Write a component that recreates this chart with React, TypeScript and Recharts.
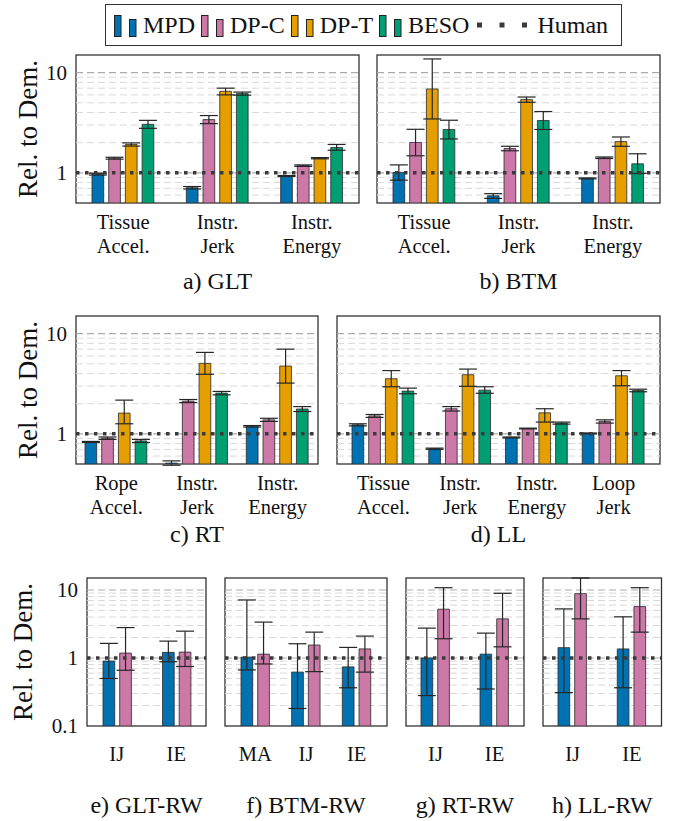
import React from 'react';
import * as R from 'recharts';

const { BarChart, Bar, XAxis, YAxis, ErrorBar, ReferenceLine } = R as any;

const FONT = "'Liberation Serif', 'Times New Roman', Times, serif";

const SERIES_NAMES = ['MPD', 'DP-C', 'DP-T', 'BESO'];
const SERIES_COLORS = ['#0072B2', '#CC79A7', '#E69F00', '#009E73'];
const HUMAN_LABEL = 'Human';
const HUMAN_VALUE = 1;
const Y_LABEL = 'Rel. to Dem.';

// ---------- a) GLT ----------
const gltCategories = ['Tissue\nAccel.', 'Instr.\nJerk', 'Instr.\nEnergy'];
const gltMean = [
  [0.97, 0.71, 0.93],
  [1.4, 3.4, 1.18],
  [1.92, 6.51, 1.4],
  [3.05, 6.18, 1.79],
];
const gltLow = [
  [0.95, 0.69, 0.92],
  [1.37, 3.1, 1.16],
  [1.85, 6.0, 1.38],
  [2.78, 5.96, 1.68],
];
const gltHigh = [
  [0.99, 0.73, 0.94],
  [1.43, 3.73, 1.2],
  [1.99, 7.0, 1.42],
  [3.34, 6.4, 1.92],
];

// ---------- b) BTM ----------
const btmCategories = ['Tissue\nAccel.', 'Instr.\nJerk', 'Instr.\nEnergy'];
const btmMean = [
  [1.01, 0.59, 0.88],
  [2.01, 1.75, 1.41],
  [6.87, 5.38, 2.05],
  [2.71, 3.33, 1.23],
];
const btmLow = [
  [0.845, 0.556, 0.87],
  [1.48, 1.66, 1.39],
  [3.45, 5.06, 1.84],
  [2.18, 2.71, 0.985],
];
const btmHigh = [
  [1.2, 0.62, 0.89],
  [2.72, 1.84, 1.44],
  [13.7, 5.71, 2.28],
  [3.35, 4.09, 1.55],
];

// ---------- c) RT ----------
const rtCategories = ['Rope\nAccel.', 'Instr.\nJerk', 'Instr.\nEnergy'];
const rtMean = [
  [0.83, 0.51, 1.19],
  [0.905, 2.12, 1.38],
  [1.61, 5.05, 4.75],
  [0.85, 2.55, 1.77],
];
const rtLow = [
  [0.82, 0.486, 1.17],
  [0.88, 2.05, 1.33],
  [1.26, 3.93, 3.21],
  [0.82, 2.45, 1.67],
];
const rtHigh = [
  [0.84, 0.537, 1.21],
  [0.93, 2.2, 1.43],
  [2.17, 6.5, 7.0],
  [0.88, 2.65, 1.87],
];

// ---------- d) LL ----------
const llCategories = ['Tissue\nAccel.', 'Instr.\nJerk', 'Instr.\nEnergy', 'Loop\nJerk'];
const llMean = [
  [1.23, 0.71, 0.92, 1.01],
  [1.51, 1.78, 1.13, 1.33],
  [3.55, 3.89, 1.62, 3.8],
  [2.67, 2.73, 1.28, 2.71],
];
const llLow = [
  [1.2, 0.7, 0.91, 1.0],
  [1.46, 1.69, 1.12, 1.28],
  [2.95, 2.98, 1.31, 3.02],
  [2.51, 2.54, 1.25, 2.63],
];
const llHigh = [
  [1.26, 0.72, 0.93, 1.02],
  [1.56, 1.87, 1.14, 1.38],
  [4.28, 4.43, 1.78, 4.28],
  [2.86, 2.95, 1.31, 2.79],
];

// ---------- e) GLT-RW ----------
const gltRwCategories = ['IJ', 'IE'];
const gltRwMean = [
  [0.9, 1.21],
  [1.18, 1.22],
];
const gltRwLow = [
  [0.5, 0.88],
  [0.66, 0.75],
];
const gltRwHigh = [
  [1.64, 1.77],
  [2.8, 2.48],
];

// ---------- f) BTM-RW ----------
const btmRwCategories = ['MA', 'IJ', 'IE'];
const btmRwMean = [
  [1.03, 0.62, 0.74],
  [1.14, 1.55, 1.36],
];
const btmRwLow = [
  [0.667, 0.181, 0.365],
  [0.817, 0.63, 0.62],
];
const btmRwHigh = [
  [7.13, 1.62, 1.43],
  [3.37, 2.4, 2.1],
];

// ---------- g) RT-RW ----------
const rtRwCategories = ['IJ', 'IE'];
const rtRwMean = [
  [1.0, 1.14],
  [5.22, 3.76],
];
const rtRwLow = [
  [0.28, 0.35],
  [1.92, 1.46],
];
const rtRwHigh = [
  [2.75, 2.32],
  [10.8, 8.94],
];

// ---------- h) LL-RW ----------
const llRwCategories = ['IJ', 'IE'];
const llRwMean = [
  [1.42, 1.36],
  [8.83, 5.7],
];
const llRwLow = [
  [0.31, 0.365],
  [3.76, 2.4],
];
const llRwHigh = [
  [5.27, 4.03],
  [15, 10.8],
];

// axis ticks & grid
const simDomain = [0.5, 15];
const simTicks = [1, 10];
const simMinorGrid = [0.6, 0.7, 0.8, 0.9, 2, 3, 4, 5, 6, 7, 8, 9];
const rwDomain = [0.1, 15];
const rwTicks = [0.1, 1, 10];
const rwMinorGrid = [0.2, 0.3, 0.4, 0.5, 0.6, 0.7, 0.8, 0.9, 2, 3, 4, 5, 6, 7, 8, 9];
const majorGrid = [1, 10];

function buildRows(categories: string[], means: number[][], lows: number[][], highs: number[][]) {
  return categories.map((name, i) => {
    const row: any = { name };
    means.forEach((series, s) => {
      const v = series[i];
      row['v' + s] = v;
      row['e' + s] = [v - lows[s][i], highs[s][i] - v];
    });
    return row;
  });
}

function Frame() {
  const hook = (R as any).usePlotArea;
  const area = hook ? hook() : null;
  if (!area) return null;
  return (
    <rect
      x={area.x}
      y={area.y}
      width={area.width}
      height={area.height}
      fill="none"
      stroke="#333"
      strokeWidth={1.3}
    />
  );
}

const makeXTick = (firstDy: number) => (props: any) => {
  const { x, y, payload } = props;
  const lines = String(payload.value).split('\n');
  return (
    <text x={x} y={y} textAnchor="middle" fontFamily={FONT} fontSize={20.5} fill="#111">
      {lines.map((l, i) => (
        <tspan key={i} x={x} dy={i === 0 ? firstDy : 24}>
          {l}
        </tspan>
      ))}
    </text>
  );
};

const EmptyTick = () => <g />;

interface PanelCfg {
  title: string;
  categories: string[];
  means: number[][];
  lows: number[][];
  highs: number[][];
  domain: number[];
  ticks: number[];
  minor: number[];
  plot: { x: number; y: number; w: number; h: number };
  showY: boolean;
  yLabelX?: number;
  padX: number;
  tickDy: number;
  titleDy: number;
}

function Panel({ cfg }: { cfg: PanelCfg }) {
  const { plot } = cfg;
  const yAxisW = cfg.showY ? 85 : 0;
  const mLeft = cfg.showY ? 0 : 10;
  const chartLeft = plot.x - yAxisW - mLeft;
  const width = mLeft + yAxisW + plot.w + 10;
  const height = 10 + plot.h + 100;
  const rows = buildRows(cfg.categories, cfg.means, cfg.lows, cfg.highs);
  const gridAll = [...cfg.minor, ...majorGrid];

  const yLabel = (p: any) => {
    const vb = p.viewBox || {};
    const cx = (cfg.yLabelX ?? 0) - chartLeft;
    const cy = (vb.y ?? 10) + (vb.height ?? plot.h) / 2;
    return (
      <text
        x={cx}
        y={cy}
        transform={`rotate(-90, ${cx}, ${cy})`}
        textAnchor="middle"
        dominantBaseline="central"
        fontFamily={FONT}
        fontSize={27}
        fill="#111"
      >
        {Y_LABEL}
      </text>
    );
  };

  const xTitle = (p: any) => {
    const vb = p.viewBox || {};
    return (
      <text
        x={vb.x + vb.width / 2}
        y={vb.y + cfg.titleDy}
        textAnchor="middle"
        fontFamily={FONT}
        fontSize={24}
        fill="#111"
      >
        {cfg.title}
      </text>
    );
  };

  return (
    <div style={{ position: 'absolute', left: chartLeft, top: plot.y - 10 }}>
      <BarChart
        width={width}
        height={height}
        data={rows}
        margin={{ top: 10, right: 10, left: mLeft, bottom: 0 }}
        barSize={11.7}
        barGap={5}
      >
        <XAxis
          dataKey="name"
          interval={0}
          height={100}
          axisLine={false}
          tickLine={false}
          tickSize={0}
          tickMargin={0}
          padding={{ left: cfg.padX, right: cfg.padX }}
          tick={makeXTick(cfg.tickDy)}
          label={xTitle}
        />
        <YAxis
          scale="log"
          domain={cfg.domain}
          allowDataOverflow
          ticks={cfg.ticks}
          hide={!cfg.showY}
          width={yAxisW}
          axisLine={false}
          tickLine={false}
          tickSize={0}
          tickMargin={9}
          tickFormatter={(v: number) => String(v)}
          tick={{ fontSize: 21, fill: '#111', fontFamily: FONT }}
          label={cfg.showY ? yLabel : undefined}
        />
        <YAxis
          yAxisId="tl"
          orientation="left"
          mirror
          width={0}
          scale="log"
          domain={cfg.domain}
          allowDataOverflow
          ticks={gridAll}
          axisLine={false}
          tickSize={4}
          tickLine={{ stroke: '#555', strokeWidth: 0.8 }}
          tick={EmptyTick}
        />
        <YAxis
          yAxisId="tr"
          orientation="right"
          mirror
          width={0}
          scale="log"
          domain={cfg.domain}
          allowDataOverflow
          ticks={gridAll}
          axisLine={false}
          tickSize={4}
          tickLine={{ stroke: '#555', strokeWidth: 0.8 }}
          tick={EmptyTick}
        />
        {cfg.minor.map((g) => (
          <ReferenceLine
            key={'mi' + g}
            y={g}
            stroke="#d9d9d9"
            strokeWidth={1}
            strokeDasharray="7 4"
            zIndex={100}
          />
        ))}
        {majorGrid.map((g) => (
          <ReferenceLine
            key={'ma' + g}
            y={g}
            stroke="#ababab"
            strokeWidth={1.2}
            strokeDasharray="7 4"
            zIndex={100}
          />
        ))}
        {cfg.means.map((_, s) => (
          <Bar
            key={s}
            dataKey={'v' + s}
            name={SERIES_NAMES[s]}
            fill={SERIES_COLORS[s]}
            stroke="#2a2a2a"
            strokeOpacity={0.8}
            strokeWidth={1}
            isAnimationActive={false}
          >
            <ErrorBar dataKey={'e' + s} width={9} stroke="#262626" strokeWidth={1.2} direction="y" />
          </Bar>
        ))}
        <ReferenceLine
          y={HUMAN_VALUE}
          stroke="#3a3a3a"
          strokeWidth={3.5}
          strokeDasharray="3.5 5.5"
          zIndex={1500}
        />
        <Frame />
      </BarChart>
    </div>
  );
}

const panels: PanelCfg[] = [
  {
    title: 'a) GLT', categories: gltCategories, means: gltMean, lows: gltLow, highs: gltHigh,
    domain: simDomain, ticks: simTicks, minor: simMinorGrid,
    plot: { x: 76, y: 55, w: 283, h: 148 }, showY: true, yLabelX: 27.5, padX: 0, tickDy: 26, titleDy: 86,
  },
  {
    title: 'b) BTM', categories: btmCategories, means: btmMean, lows: btmLow, highs: btmHigh,
    domain: simDomain, ticks: simTicks, minor: simMinorGrid,
    plot: { x: 377, y: 55, w: 283, h: 148 }, showY: false, padX: 0, tickDy: 26, titleDy: 86,
  },
  {
    title: 'c) RT', categories: rtCategories, means: rtMean, lows: rtLow, highs: rtHigh,
    domain: simDomain, ticks: simTicks, minor: simMinorGrid,
    plot: { x: 76, y: 316, w: 242, h: 148 }, showY: true, yLabelX: 27.5, padX: 0, tickDy: 26, titleDy: 78,
  },
  {
    title: 'd) LL', categories: llCategories, means: llMean, lows: llLow, highs: llHigh,
    domain: simDomain, ticks: simTicks, minor: simMinorGrid,
    plot: { x: 337, y: 316, w: 323, h: 148 }, showY: false, padX: 8, tickDy: 26, titleDy: 78,
  },
  {
    title: 'e) GLT-RW', categories: gltRwCategories, means: gltRwMean, lows: gltRwLow, highs: gltRwHigh,
    domain: rwDomain, ticks: rwTicks, minor: rwMinorGrid,
    plot: { x: 87, y: 578, w: 119, h: 148 }, showY: true, yLabelX: 22.5, padX: 0, tickDy: 35, titleDy: 87,
  },
  {
    title: 'f) BTM-RW', categories: btmRwCategories, means: btmRwMean, lows: btmRwLow, highs: btmRwHigh,
    domain: rwDomain, ticks: rwTicks, minor: rwMinorGrid,
    plot: { x: 225, y: 578, w: 162, h: 148 }, showY: false, padX: 5, tickDy: 35, titleDy: 87,
  },
  {
    title: 'g) RT-RW', categories: rtRwCategories, means: rtRwMean, lows: rtRwLow, highs: rtRwHigh,
    domain: rwDomain, ticks: rwTicks, minor: rwMinorGrid,
    plot: { x: 406, y: 578, w: 118, h: 148 }, showY: false, padX: 0, tickDy: 35, titleDy: 87,
  },
  {
    title: 'h) LL-RW', categories: llRwCategories, means: llRwMean, lows: llRwLow, highs: llRwHigh,
    domain: rwDomain, ticks: rwTicks, minor: rwMinorGrid,
    plot: { x: 543, y: 578, w: 118.5, h: 148 }, showY: false, padX: 0, tickDy: 35, titleDy: 87,
  },
];

function LegendBox() {
  return (
    <div
      style={{
        position: 'absolute',
        left: 105,
        top: 4,
        width: 517,
        height: 42,
        border: '1.3px solid #333',
        boxSizing: 'border-box',
        display: 'flex',
        alignItems: 'center',
        paddingLeft: 8,
        fontFamily: FONT,
        fontSize: 24,
        color: '#111',
      }}
    >
      {SERIES_NAMES.map((name, i) => (
        <div key={name} style={{ display: 'flex', alignItems: 'flex-end', marginRight: 6 }}>
          <svg width={29} height={24} style={{ display: 'block', marginBottom: 1 }}>
            <rect x={0.5} y={2.5} width={6.5} height={21} fill={SERIES_COLORS[i]} stroke="#222" strokeWidth={1} />
            <rect x={15.5} y={6.5} width={6.5} height={17} fill={SERIES_COLORS[i]} stroke="#222" strokeWidth={1} />
          </svg>
          <span style={{ lineHeight: '26px' }}>{name}</span>
        </div>
      ))}
      <div style={{ display: 'flex', alignItems: 'center', marginLeft: 2 }}>
        <svg width={60} height={10} style={{ display: 'block' }}>
          <line x1={0} y1={5} x2={60} y2={5} stroke="#3a3a3a" strokeWidth={5} strokeDasharray="5 17.5" />
        </svg>
        <span style={{ lineHeight: '26px' }}>{HUMAN_LABEL}</span>
      </div>
    </div>
  );
}

export default function App() {
  return (
    <div style={{ position: 'absolute', left: 0, top: 0, width: 677, height: 821, background: '#fff', overflow: 'hidden' }}>
      <LegendBox />
      {panels.map((p) => (
        <Panel key={p.title} cfg={p} />
      ))}
    </div>
  );
}
